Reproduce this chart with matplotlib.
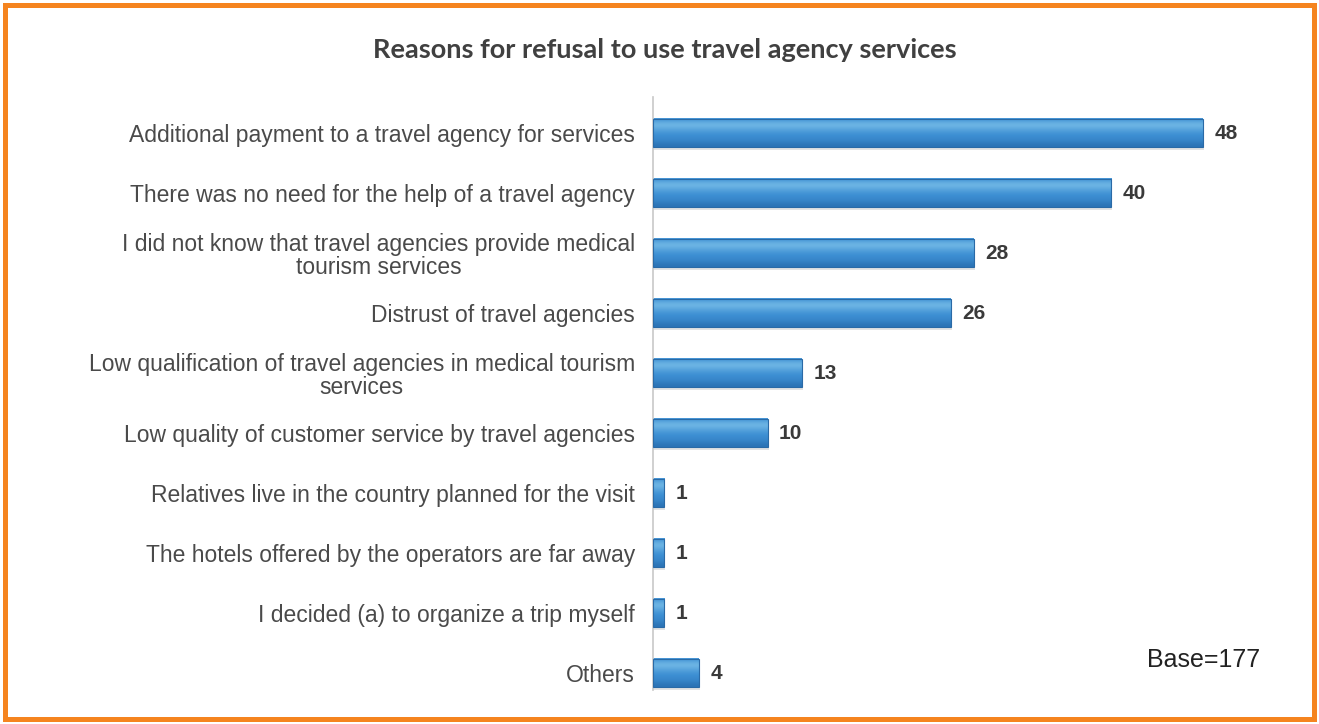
import matplotlib.pyplot as plt
import matplotlib.patches as mpatches
from matplotlib.colors import LinearSegmentedColormap
import numpy as np

# Razones y porcentajes
razones = [
    'Additional payment to a travel agency for services',
    'There was no need for the help of a travel agency',
    'I did not know that travel agencies provide medical\ntourism services',
    'Distrust of travel agencies',
    'Low qualification of travel agencies in medical tourism\nservices',
    'Low quality of customer service by travel agencies',
    'Relatives live in the country planned for the visit',
    'The hotels offered by the operators are far away',
    'I decided (a) to organize a trip myself',
    'Others',
]
valores = [48, 40, 28, 26, 13, 10, 1, 1, 1, 4]
titulo = 'Reasons for refusal to use travel agency services'
nota_base = 'Base=177'

W, H = 1319, 724
fig = plt.figure(figsize=(W / 100, H / 100), dpi=100)

# Marco naranja alrededor de todo
fig.patches.append(mpatches.Rectangle((5 / W, 5 / H), 1 - 10 / W, 1 - 10 / H,
                                      transform=fig.transFigure, fill=False,
                                      edgecolor='#f5841f', linewidth=3.6))

ax = fig.add_axes([653 / W, 1 - 690 / H, (1300 - 653) / W, (690 - 97) / H])
xmax = (1300 - 653) / ((1203 - 653) / 48)

# Degradado vertical para dar efecto de volumen a las barras
grad = np.array([[0.55], [0.8], [0.68], [0.55], [0.47], [0.4], [0.22]])
cmap = LinearSegmentedColormap.from_list('barra', ['#1f5f9e', '#3d8fd3', '#9ad8f4'])

alto = 0.47
ys = np.arange(len(valores))
for y, v in zip(ys, valores):
    # sombra
    ax.add_patch(mpatches.Rectangle((0, y - alto / 2 + 0.04), v + 0.08, alto,
                                    facecolor='#c8c8c8', edgecolor='none', alpha=0.5, zorder=1))
    ax.imshow(grad, cmap=cmap, vmin=0, vmax=1, aspect='auto', interpolation='bicubic',
              extent=(0, v, y + alto / 2, y - alto / 2), zorder=2)
    ax.add_patch(mpatches.Rectangle((0, y - alto / 2), v, alto, facecolor='none',
                                    edgecolor='#2a6aa6', linewidth=0.8, zorder=3))
    ax.text(v + 1.0, y, str(v), va='center', ha='left', fontsize=15, fontweight='bold',
            color='#3a3a3a', family='Liberation Sans')

ax.set_xlim(0, xmax)
ax.set_ylim(9.28, -0.6)
ax.set_yticks(ys)
ax.set_yticklabels(razones, fontsize=16.5, color='#4a4a4a', family='Liberation Sans',
                   multialignment='center', linespacing=1.05)
ax.tick_params(axis='y', length=0, pad=13)
ax.set_xticks([])
for s in ['top', 'right', 'bottom']:
    ax.spines[s].set_visible(False)
ax.spines['left'].set_color('#c8c8c8')
ax.spines['left'].set_linewidth(1.2)

fig.text(665 / W, 1 - 50 / H, titulo, ha='center', va='center', fontsize=19.5,
         fontweight='bold', color='#404040', family='Lato')
fig.text(1204 / W, 1 - 660 / H, nota_base, ha='center', va='center', fontsize=18,
         color='#222222', family='Liberation Sans')

fig.savefig('out.png', dpi=100, facecolor='white')
